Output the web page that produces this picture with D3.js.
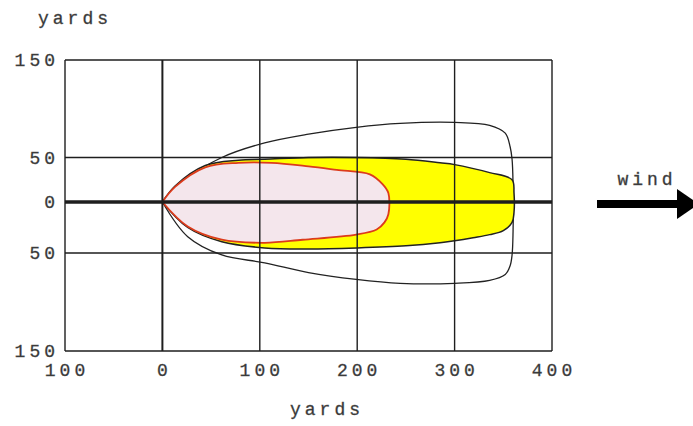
<!DOCTYPE html>
<html>
<head>
<meta charset="utf-8">
<script src="https://cdn.jsdelivr.net/npm/d3@7"></script>
<style>
  body { margin: 0; background: #fff; }
  text { font-family: "Liberation Mono", "DejaVu Sans Mono", monospace; fill: #333; stroke: #555; stroke-width: 0.35px;
         font-size: 18px; letter-spacing: 4px; }
</style>
</head>
<body>
<svg id="chart" width="693" height="426"></svg>
<script>
// axis ticks
var xTicks = [-100, 0, 100, 200, 300, 400];
var xTickLabels = ["100", "0", "100", "200", "300", "400"];
var yTicks = [150, 50, 0, -50, -150];
var yTickLabels = ["150", "50", "0", "50", "150"];

// outer contour (yards)
var outerX = [0, 26, 61, 105, 150, 199, 244, 300, 336, 352, 357, 359, 360, 360, 359, 357, 352, 336, 300, 244, 199, 150, 105, 61, 26, 0];
var outerY = [0, 27, 50, 65, 74, 81, 85, 86, 83, 75, 61, 48, 20, -30, -52, -63, -72, -78, -81, -81, -77, -70, -60, -52, -34, 0];

// yellow contour
var midX = [0, 13, 44, 78, 105, 150, 200, 250, 285, 300, 336, 359, 361, 361, 359, 350, 336, 319, 300, 285, 250, 200, 150, 105, 61, 26, 0];
var midY = [0, 18, 41, 47, 48, 50, 50, 48, 44, 42, 33, 25, 10, -10, -20, -28, -32, -35, -38, -40, -43, -45, -46, -45, -39, -25, 0];

// inner (red) contour
var innerX = [0, 13, 44, 78, 112, 150, 179, 213, 226, 232, 232, 228, 220, 199, 144, 105, 61, 26, 0];
var innerY = [0, 17, 39, 44, 44, 40, 36, 31, 20, 10, -12, -20, -27, -32, -37, -40, -37, -24, 0];

var svg = d3.select("#chart");

var x = d3.scaleLinear().domain([-100, 400]).range([65, 552]);
var y = d3.scaleLinear().domain([-150, -50, 0, 50, 150]).range([351, 253, 202, 157.5, 60]);

var line = d3.line()
  .x(function(d) { return x(d[0]); })
  .y(function(d) { return y(d[1]); })
  .curve(d3.curveCatmullRom.alpha(0.5));

function pts(xs, ys) { return xs.map(function(v, i) { return [v, ys[i]]; }); }

svg.append("path").attr("d", line(pts(outerX, outerY)))
  .attr("fill", "#fff").attr("stroke", "#222").attr("stroke-width", 1.3);
svg.append("path").attr("d", line(pts(midX, midY)))
  .attr("fill", "#ffff00").attr("stroke", "#222").attr("stroke-width", 1.5);
svg.append("path").attr("d", line(pts(innerX, innerY)))
  .attr("fill", "#f4e6ec").attr("stroke", "#dc3b1c").attr("stroke-width", 1.8);

// grid
var grid = svg.append("g").attr("stroke", "#1e1e1e");
grid.selectAll(".vx").data(xTicks).enter().append("line")
  .attr("x1", function(d) { return x(d); }).attr("x2", function(d) { return x(d); })
  .attr("y1", y(150)).attr("y2", y(-150))
  .attr("stroke-width", function(d) { return d === 0 ? 2 : 1.4; });
grid.selectAll(".hy").data(yTicks).enter().append("line")
  .attr("x1", x(-100)).attr("x2", x(400))
  .attr("y1", function(d) { return y(d); }).attr("y2", function(d) { return y(d); })
  .attr("stroke-width", function(d) { return d === 0 ? 3.5 : 1.4; });

// tick labels
svg.selectAll(".xl").data(xTicks).enter().append("text")
  .attr("x", function(d) { return x(d) + 2; })
  .attr("y", 376)
  .attr("text-anchor", "middle")
  .text(function(d, i) { return xTickLabels[i]; });
svg.selectAll(".yl").data(yTicks).enter().append("text")
  .attr("x", 59)
  .attr("y", function(d) { return y(d) + 6; })
  .attr("text-anchor", "end")
  .text(function(d, i) { return yTickLabels[i]; });

svg.append("text").attr("x", 75).attr("y", 24).attr("text-anchor", "middle").text("yards");
svg.append("text").attr("x", 327).attr("y", 415).attr("text-anchor", "middle").text("yards");
svg.append("text").attr("x", 647).attr("y", 185).attr("text-anchor", "middle").text("wind");

// wind arrow
svg.append("rect").attr("x", 597).attr("y", 200).attr("width", 84).attr("height", 8).attr("fill", "#000");
svg.append("path").attr("d", "M677,189 L699,204 L677,219 Z").attr("fill", "#000");
</script>
</body>
</html>
